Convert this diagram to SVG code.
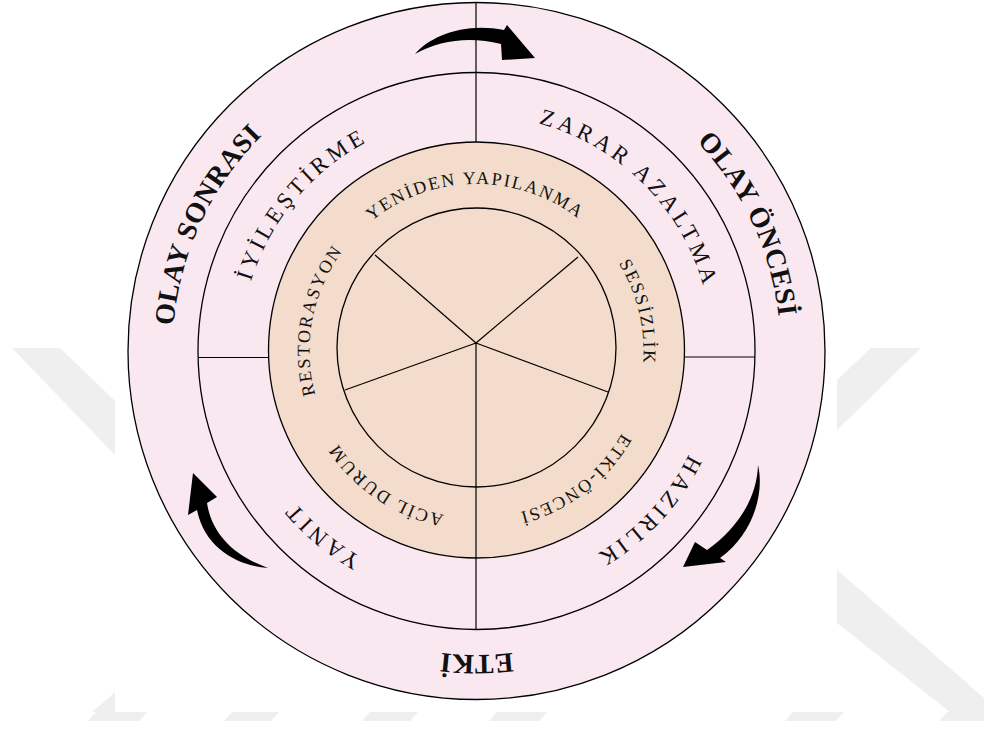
<svg xmlns="http://www.w3.org/2000/svg" width="984" height="729" viewBox="0 0 984 729">
<style>
.wm{fill:#efefef}
.pink{fill:#FAE8F1;stroke:#000;stroke-width:1.3}
.peach{fill:#F3DCCB;stroke:#000;stroke-width:1.3}
.ln{stroke:#000;stroke-width:1.2;fill:none}
.arr{fill:#000}
.t1{font-family:"Liberation Serif","DejaVu Serif",serif;font-weight:bold;font-size:28px;letter-spacing:0.5px;fill:#111}
.t2{font-family:"Liberation Serif","DejaVu Serif",serif;font-size:23px;letter-spacing:4px;fill:#111}
.t3{font-family:"Liberation Serif","DejaVu Serif",serif;font-size:18px;letter-spacing:2px;fill:#111}
</style>
<defs>
<path id="pOS" d="M580.47,636.67 A304,304 0 1 1 762.17,247.03"/>
<path id="pOO" d="M190.83,247.03 A304,304 0 1 1 372.53,636.67"/>
<path id="pET" d="M691.46,136.04 A304,304 0 1 1 261.54,136.04"/>
<path id="pIY" d="M497.07,586.10 A236,236 0 1 1 711.60,330.43"/>
<path id="pZA" d="M240.5,351 A236,236 0 1 1 476.5,587"/>
<path id="pHA" d="M468.26,115.14 A236,236 0 1 1 240.64,359.24"/>
<path id="pYA" d="M711.60,330.43 A236,236 0 1 1 455.93,115.90"/>
<path id="pYE" d="M359.45,470.11 A167,167 0 1 1 595.61,468.05"/>
<path id="pRE" d="M569.88,489.45 A167,167 0 1 1 614.95,257.62"/>
<path id="pSE" d="M334.11,263.74 A167,167 0 1 1 389.24,493.39"/>
<path id="pEO" d="M498.30,185.43 A167,167 0 1 1 310.93,329.20"/>
<path id="pAD" d="M640.43,319.13 A167,167 0 1 1 444.63,187.07"/>
</defs>
<rect width="984" height="729" fill="#fff"/>
<g id="watermark">
<polygon class="wm" points="12,348 60,348 115,401 115,455"/>
<polygon class="wm" points="115,692 115,712 92,712"/>
<polygon class="wm" points="871,348 921,348 837,430 837,380"/>
<polygon class="wm" points="837,570 984,698 984,712 950,712 837,623"/>
<polygon class="wm" points="96,712 147,712 139,721 88,721"/>
<polygon class="wm" points="232,712 279,712 271,721 224,721"/>
<polygon class="wm" points="370,712 418,712 410,721 362,721"/>
<polygon class="wm" points="497,712 547,712 539,721 489,721"/>
<polygon class="wm" points="793,712 844,712 836,721 785,721"/>
<polygon class="wm" points="947,712 984,712 984,721 939,721"/>
</g>
<g id="rings">
<circle class="pink" cx="476.5" cy="351" r="348.5"/>
<circle class="pink" cx="476.5" cy="351" r="278.5"/>
<circle class="peach" cx="476.5" cy="350" r="208"/>
<circle class="peach" cx="476.5" cy="347.5" r="139.5"/>
</g>
<g id="connectors">
<line class="ln" x1="476" y1="2.5" x2="476" y2="142"/>
<line class="ln" x1="476" y1="343" x2="476" y2="630"/>
<line class="ln" x1="198" y1="357.5" x2="268.5" y2="357.5"/>
<line class="ln" x1="685" y1="357" x2="755" y2="357"/>
<line class="ln" x1="476" y1="343" x2="375" y2="255"/>
<line class="ln" x1="476" y1="343" x2="578" y2="257"/>
<line class="ln" x1="476" y1="343" x2="345" y2="390"/>
<line class="ln" x1="476" y1="343" x2="608" y2="392"/>
<path class="arr" d="M415,54 C430,36 465,22 504,30 L507,25 L535,58 L502,60 L501,44 C470,36 440,40 415,54 Z"/>
<path class="arr" d="M758,465 C765,495 752,535 720,558 L726,562 L683,567 L695,542 L707,550 C738,528 757,498 758,465 Z"/>
<path class="arr" d="M268,568 C240,566 205,550 197,510 L188,515 L193,473 L217,497 L207,503 C212,535 235,556 268,568 Z"/>
</g>
<g id="olay-sonrasi"><text class="t1"><textPath href="#pOS" startOffset="50%" text-anchor="middle">OLAY SONRASI</textPath></text></g>
<g id="olay-oncesi"><text class="t1"><textPath href="#pOO" startOffset="50%" text-anchor="middle">OLAY ÖNCESİ</textPath></text></g>
<g id="etki"><text class="t1"><textPath href="#pET" startOffset="50%" text-anchor="middle">ETKİ</textPath></text></g>
<g id="iyilestirme"><text class="t2"><textPath href="#pIY" startOffset="50%" text-anchor="middle">İYİLEŞTİRME</textPath></text></g>
<g id="zarar-azaltma"><text class="t2"><textPath href="#pZA" startOffset="50%" text-anchor="middle">ZARAR AZALTMA</textPath></text></g>
<g id="hazirlik"><text class="t2"><textPath href="#pHA" startOffset="50%" text-anchor="middle">HAZIRLIK</textPath></text></g>
<g id="yanit"><text class="t2"><textPath href="#pYA" startOffset="50%" text-anchor="middle">YANIT</textPath></text></g>
<g id="yeniden-yapilanma"><text class="t3"><textPath href="#pYE" startOffset="50%" text-anchor="middle">YENİDEN YAPILANMA</textPath></text></g>
<g id="restorasyon"><text class="t3"><textPath href="#pRE" startOffset="50%" text-anchor="middle">RESTORASYON</textPath></text></g>
<g id="sessizlik"><text class="t3"><textPath href="#pSE" startOffset="50%" text-anchor="middle">SESSİZLİK</textPath></text></g>
<g id="etki-oncesi"><text class="t3"><textPath href="#pEO" startOffset="50%" text-anchor="middle">ETKİ-ÖNCESİ</textPath></text></g>
<g id="acil-durum"><text class="t3"><textPath href="#pAD" startOffset="50%" text-anchor="middle">ACİL DURUM</textPath></text></g>
</svg>
